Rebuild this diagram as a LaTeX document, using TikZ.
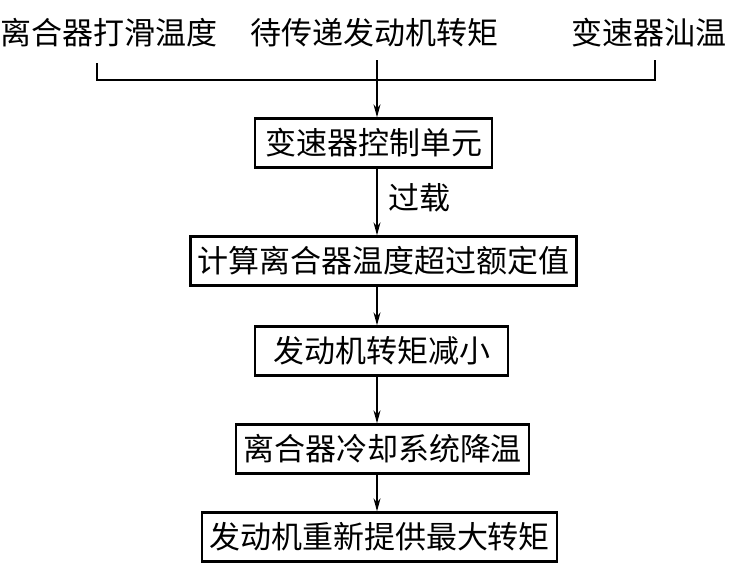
\documentclass[tikz,border=0pt]{standalone}
\usepackage{fontspec}
\newfontfamily\cjk{Noto Sans CJK SC}
\usetikzlibrary{arrows.meta}

\begin{document}
\begin{tikzpicture}[x=1pt,y=-1pt,
		cjkfont/.style={font=\cjk\fontsize{31}{32}\selectfont},
		box/.style={draw,line width=2.4pt,cjkfont,inner xsep=7pt,minimum height=49pt},
		intxt/.style={cjkfont,inner sep=0pt},
		conn/.style={line width=1.3pt},
		arr/.style={conn,-{Stealth[length=13pt,width=7pt]}}]

				\useasboundingbox (0,0) rectangle (740,563);

				\node[intxt] (slip)   at (109.5,33) {离合器打滑温度};
				\node[intxt] (torque) at (374,33)   {待传递发动机转矩};
				\node[intxt] (oil)    at (648.5,33) {变速器汕温};

				\node[box,minimum width=237pt] (tcu)   at (373.5,143) {变速器控制单元};
				\node[box]                     (calc)  at (383.5,261) {计算离合器温度超过额定值};
				\node[box,minimum width=253pt] (red)   at (381.5,351) {发动机转矩减小};
				\node[box]                     (cool)  at (382.5,449) {离合器冷却系统降温};
				\node[box]                     (max)   at (379.5,537) {发动机重新提供最大转矩};

				\coordinate (l0) at (97,63);
				\coordinate (l1) at (97,80);
				\coordinate (r0) at (655,60);
				\coordinate (r1) at (655,80);
				\coordinate (m0) at (377,60);

				\draw[conn] (l0) -- (l1) -- (r1) -- (r0);
				\draw[arr] (m0) -- (tcu.north -| m0);
				\draw[arr] (tcu.south -| m0) -- node[intxt,right=11pt,yshift=4pt] (over) {过载} (calc.north -| m0);
				\draw[arr] (calc.south -| m0) -- (red.north -| m0);
				\draw[arr] (red.south -| m0) -- (cool.north -| m0);
				\draw[arr] (cool.south -| m0) -- (max.north -| m0);
			\end{tikzpicture}
\end{document}
